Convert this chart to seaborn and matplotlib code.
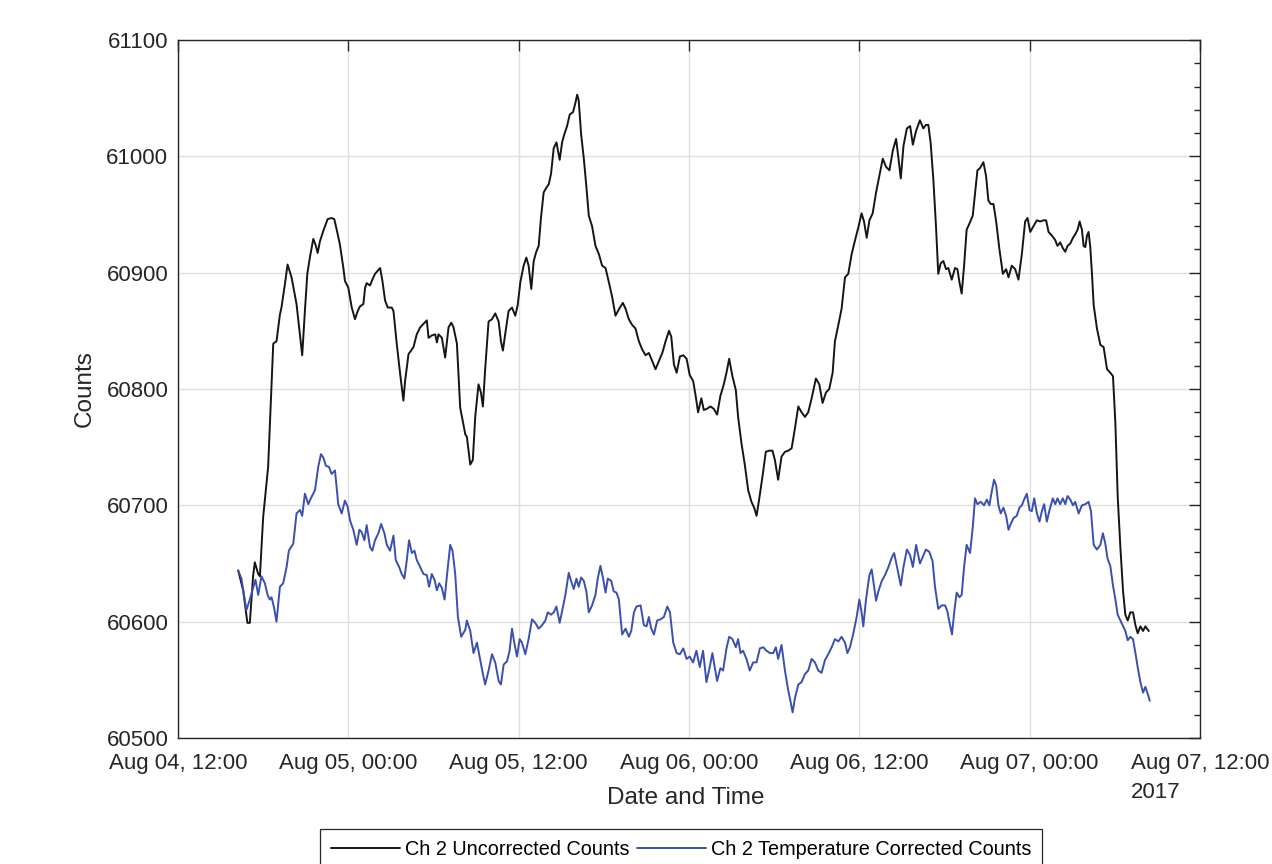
"""
Ch 2 counts, uncorrected vs temperature corrected (Aug 2017)
"""
import numpy as np
import pandas as pd
import matplotlib
matplotlib.use('Agg')
import matplotlib.pyplot as plt
from matplotlib.ticker import MultipleLocator
from matplotlib.lines import Line2D
import seaborn as sns

sns.set_theme(style='white')
plt.rcParams['font.family'] = ['Liberation Sans', 'DejaVu Sans']

# hours after Aug 04 2017, 12:00
unc_hours = [
    4.24, 4.59, 4.89, 5.06, 5.29, 5.41, 5.65, 5.77, 6.0, 6.35,
    6.54, 6.71, 6.94, 7.18, 7.29, 7.53, 7.72, 8.0, 8.35, 8.59,
    8.75, 8.94, 9.11, 9.29, 9.53, 9.69, 9.84, 10.0, 10.24, 10.54,
    10.82, 11.01, 11.18, 11.41, 11.65, 11.76, 12.0, 12.24, 12.47, 12.66,
    12.82, 13.06, 13.18, 13.29, 13.53, 13.69, 13.88, 14.24, 14.4, 14.59,
    14.78, 15.06, 15.18, 15.41, 15.65, 15.88, 16.0, 16.24, 16.42, 16.59,
    16.82, 17.06, 17.29, 17.53, 17.65, 17.88, 18.12, 18.24, 18.35, 18.59,
    18.82, 19.06, 19.25, 19.41, 19.65, 19.88, 20.24, 20.35, 20.59, 20.77,
    20.94, 21.17, 21.34, 21.48, 21.64, 21.88, 22.12, 22.35, 22.59, 22.75,
    22.89, 23.06, 23.29, 23.53, 23.76, 23.93, 24.12, 24.35, 24.54, 24.7,
    24.89, 25.06, 25.24, 25.41, 25.57, 25.76, 25.95, 26.12, 26.28, 26.47,
    26.66, 26.89, 27.06, 27.22, 27.41, 27.6, 27.83, 28.0, 28.12, 28.23,
    28.4, 28.59, 28.77, 28.94, 29.17, 29.41, 29.65, 29.88, 30.12, 30.35,
    30.59, 30.82, 31.13, 31.34, 31.53, 31.76, 32.0, 32.23, 32.47, 32.7,
    32.94, 33.17, 33.41, 33.64, 33.88, 34.12, 34.35, 34.59, 34.75, 34.94,
    35.13, 35.36, 35.6, 35.83, 36.05, 36.29, 36.47, 36.64, 36.87, 37.04,
    37.27, 37.51, 37.74, 37.98, 38.21, 38.45, 38.64, 38.83, 39.06, 39.3,
    39.46, 39.7, 39.93, 40.17, 40.4, 40.59, 40.76, 40.94, 41.18, 41.41,
    41.65, 41.88, 42.05, 42.28, 42.52, 42.76, 42.99, 43.23, 43.46, 43.7,
    43.93, 44.17, 44.4, 44.64, 44.94, 45.18, 45.41, 45.65, 45.88, 46.12,
    46.28, 46.52, 46.75, 46.99, 47.22, 47.46, 47.7, 47.93, 48.16, 48.33,
    48.52, 48.71, 48.94, 49.18, 49.41, 49.65, 49.88, 50.12, 50.36, 50.59,
    50.76, 50.92, 51.11, 51.35, 51.58, 51.77, 52.0, 52.27, 52.51, 52.69,
    52.86, 53.02, 53.21, 53.4, 53.56, 53.73, 53.92, 54.11, 54.27, 54.51,
    54.74, 54.91, 55.05, 55.21, 55.38, 55.56, 55.75, 55.99, 56.15, 56.32,
    56.51, 56.74, 56.93, 57.09, 57.26, 57.45, 57.64, 57.87, 58.11, 58.34,
    58.51, 58.74, 58.98, 59.21, 59.45, 59.68, 59.85, 60.04, 60.27, 60.51,
    60.74, 60.98, 61.16, 61.33, 61.56, 61.8, 61.96, 62.15, 62.34, 62.51,
    62.67, 62.86, 63.05, 63.21, 63.38, 63.52, 63.68, 63.8, 63.92, 64.04,
    64.15, 64.27, 64.39, 64.51, 64.74, 64.98, 65.21, 65.45, 65.68, 65.87,
    66.04, 66.2, 66.39, 66.58, 66.74, 66.91, 67.09, 67.28, 67.45, 67.61,
    67.8, 67.99, 68.15, 68.39,
]
unc_counts = [
    60644, 60627, 60599, 60599, 60639, 60651, 60641, 60639, 60690, 60733,
    60790, 60839, 60841, 60864, 60870, 60890, 60907, 60896, 60873, 60847,
    60829, 60867, 60899, 60913, 60929, 60924, 60917, 60927, 60936, 60946,
    60947, 60946, 60937, 60924, 60904, 60893, 60887, 60870, 60860, 60867,
    60871, 60873, 60887, 60891, 60889, 60894, 60899, 60904, 60893, 60876,
    60870, 60870, 60867, 60839, 60813, 60790, 60807, 60830, 60833, 60836,
    60847, 60853, 60856, 60859, 60844, 60846, 60847, 60840, 60847, 60844,
    60827, 60853, 60857, 60853, 60839, 60784, 60761, 60759, 60735, 60739,
    60776, 60804, 60797, 60785, 60817, 60858, 60860, 60865, 60858, 60841,
    60833, 60848, 60867, 60870, 60863, 60872, 60892, 60906, 60913, 60906,
    60886, 60910, 60918, 60923, 60947, 60969, 60973, 60976, 60985, 61007,
    61012, 60997, 61012, 61019, 61026, 61036, 61038, 61046, 61053, 61048,
    61019, 60998, 60974, 60949, 60940, 60923, 60916, 60906, 60904, 60892,
    60879, 60863, 60870, 60874, 60869, 60860, 60855, 60852, 60841, 60834,
    60829, 60831, 60824, 60817, 60824, 60831, 60841, 60850, 60845, 60821,
    60814, 60828, 60829, 60826, 60812, 60807, 60794, 60780, 60792, 60782,
    60783, 60785, 60783, 60778, 60794, 60804, 60814, 60826, 60811, 60799,
    60776, 60753, 60735, 60713, 60703, 60698, 60691, 60705, 60725, 60746,
    60747, 60747, 60739, 60722, 60742, 60746, 60747, 60749, 60766, 60785,
    60780, 60776, 60780, 60792, 60809, 60804, 60788, 60797, 60800, 60814,
    60841, 60855, 60869, 60896, 60899, 60916, 60928, 60939, 60951, 60944,
    60930, 60945, 60951, 60969, 60983, 60998, 60991, 60988, 61005, 61015,
    60998, 60981, 61009, 61024, 61026, 61010, 61022, 61031, 61024, 61027,
    61027, 61012, 60981, 60940, 60899, 60908, 60910, 60903, 60904, 60894,
    60904, 60903, 60892, 60882, 60906, 60937, 60942, 60949, 60968, 60988,
    60990, 60995, 60983, 60962, 60959, 60959, 60944, 60920, 60899, 60903,
    60896, 60906, 60903, 60894, 60916, 60944, 60947, 60935, 60940, 60945,
    60944, 60945, 60945, 60935, 60932, 60928, 60923, 60926, 60921, 60918,
    60923, 60925, 60930, 60933, 60937, 60944, 60937, 60923, 60922, 60932,
    60935, 60922, 60899, 60872, 60852, 60838, 60836, 60817, 60814, 60811,
    60770, 60708, 60664, 60626, 60606, 60601, 60608, 60608, 60597, 60590,
    60596, 60592, 60596, 60592,
]

cor_hours = [
    4.24, 4.47, 4.82, 5.06, 5.29, 5.46, 5.65, 5.88, 6.12, 6.31,
    6.47, 6.59, 6.75, 6.94, 7.18, 7.41, 7.65, 7.81, 8.12, 8.35,
    8.59, 8.75, 8.94, 9.18, 9.36, 9.65, 9.88, 10.07, 10.24, 10.42,
    10.64, 10.82, 11.06, 11.29, 11.53, 11.76, 11.95, 12.12, 12.35, 12.59,
    12.78, 12.94, 13.13, 13.29, 13.53, 13.69, 13.88, 14.12, 14.31, 14.54,
    14.71, 14.94, 15.18, 15.34, 15.58, 15.76, 15.95, 16.12, 16.28, 16.47,
    16.66, 16.82, 17.06, 17.29, 17.53, 17.69, 17.88, 18.07, 18.24, 18.4,
    18.59, 18.78, 19.01, 19.18, 19.34, 19.53, 19.72, 19.95, 20.24, 20.35,
    20.59, 20.82, 21.06, 21.25, 21.48, 21.64, 21.88, 22.12, 22.35, 22.59,
    22.75, 22.94, 23.18, 23.36, 23.53, 23.69, 23.88, 24.07, 24.23, 24.47,
    24.7, 24.94, 25.17, 25.41, 25.65, 25.88, 26.05, 26.28, 26.47, 26.66,
    26.89, 27.06, 27.29, 27.53, 27.69, 27.88, 28.07, 28.23, 28.4, 28.59,
    28.77, 28.94, 29.17, 29.41, 29.57, 29.76, 29.95, 30.12, 30.28, 30.52,
    30.7, 30.89, 31.06, 31.29, 31.53, 31.76, 31.93, 32.12, 32.3, 32.59,
    32.82, 33.01, 33.17, 33.34, 33.53, 33.76, 34.0, 34.23, 34.47, 34.66,
    34.89, 35.13, 35.36, 35.6, 35.83, 36.05, 36.29, 36.52, 36.76, 36.99,
    37.23, 37.46, 37.65, 37.81, 37.98, 38.21, 38.4, 38.64, 38.83, 39.06,
    39.3, 39.46, 39.63, 39.81, 40.05, 40.28, 40.52, 40.76, 40.99, 41.23,
    41.46, 41.7, 41.93, 42.12, 42.28, 42.52, 42.76, 42.99, 43.16, 43.3,
    43.46, 43.7, 43.93, 44.17, 44.4, 44.64, 44.87, 45.11, 45.34, 45.58,
    45.81, 46.05, 46.28, 46.52, 46.75, 46.99, 47.16, 47.34, 47.58, 47.81,
    48.0, 48.16, 48.28, 48.47, 48.71, 48.87, 49.04, 49.18, 49.34, 49.58,
    49.81, 50.05, 50.28, 50.45, 50.64, 50.92, 51.11, 51.35, 51.58, 51.77,
    52.0, 52.27, 52.51, 52.69, 52.93, 53.16, 53.33, 53.56, 53.8, 54.04,
    54.2, 54.39, 54.53, 54.69, 54.86, 55.05, 55.21, 55.38, 55.56, 55.8,
    55.99, 56.15, 56.32, 56.55, 56.79, 56.98, 57.16, 57.33, 57.49, 57.64,
    57.8, 57.96, 58.15, 58.34, 58.51, 58.67, 58.86, 59.09, 59.28, 59.45,
    59.61, 59.8, 59.99, 60.15, 60.32, 60.51, 60.69, 60.86, 61.02, 61.21,
    61.4, 61.63, 61.8, 61.96, 62.15, 62.34, 62.51, 62.67, 62.86, 63.05,
    63.21, 63.45, 63.68, 63.92, 64.15, 64.32, 64.51, 64.74, 64.98, 65.16,
    65.33, 65.49, 65.68, 65.87, 66.04, 66.2, 66.39, 66.58, 66.74, 66.91,
    67.09, 67.28, 67.45, 67.61, 67.8, 67.99, 68.15, 68.32, 68.46,
]
cor_counts = [
    60644, 60637, 60610, 60619, 60629, 60636, 60623, 60639, 60633, 60623,
    60619, 60621, 60613, 60600, 60630, 60633, 60647, 60661, 60667, 60693,
    60696, 60691, 60710, 60701, 60706, 60713, 60733, 60744, 60741, 60734,
    60733, 60727, 60730, 60701, 60693, 60704, 60699, 60687, 60679, 60666,
    60679, 60677, 60670, 60683, 60664, 60661, 60670, 60676, 60684, 60676,
    60666, 60661, 60674, 60653, 60647, 60641, 60637, 60653, 60670, 60659,
    60661, 60653, 60647, 60641, 60640, 60630, 60641, 60636, 60627, 60633,
    60629, 60619, 60647, 60666, 60661, 60641, 60604, 60587, 60593, 60601,
    60592, 60573, 60582, 60570, 60555, 60546, 60558, 60572, 60565, 60549,
    60546, 60563, 60566, 60575, 60594, 60582, 60570, 60585, 60582, 60572,
    60585, 60602, 60599, 60594, 60597, 60601, 60608, 60606, 60608, 60613,
    60599, 60609, 60623, 60642, 60635, 60628, 60637, 60630, 60638, 60635,
    60626, 60608, 60614, 60623, 60637, 60648, 60637, 60625, 60637, 60635,
    60626, 60625, 60619, 60589, 60594, 60587, 60592, 60608, 60613, 60614,
    60597, 60596, 60604, 60594, 60589, 60601, 60602, 60604, 60613, 60608,
    60582, 60573, 60572, 60577, 60568, 60570, 60565, 60575, 60561, 60575,
    60548, 60561, 60573, 60561, 60549, 60560, 60558, 60577, 60587, 60585,
    60578, 60585, 60573, 60575, 60568, 60558, 60565, 60565, 60577, 60578,
    60575, 60573, 60573, 60578, 60568, 60580, 60558, 60541, 60531, 60522,
    60534, 60546, 60548, 60555, 60558, 60568, 60565, 60558, 60556, 60567,
    60572, 60578, 60585, 60583, 60587, 60582, 60573, 60578, 60590, 60604,
    60619, 60608, 60596, 60619, 60640, 60645, 60630, 60618, 60626, 60635,
    60640, 60647, 60655, 60659, 60648, 60631, 60647, 60662, 60657, 60647,
    60666, 60650, 60657, 60662, 60660, 60652, 60630, 60611, 60614, 60614,
    60609, 60597, 60589, 60609, 60625, 60621, 60623, 60647, 60666, 60659,
    60681, 60706, 60701, 60703, 60700, 60705, 60700, 60712, 60722, 60717,
    60700, 60693, 60698, 60691, 60679, 60684, 60689, 60691, 60698, 60700,
    60705, 60710, 60696, 60695, 60706, 60693, 60686, 60695, 60701, 60686,
    60696, 60706, 60701, 60706, 60701, 60706, 60701, 60708, 60705, 60700,
    60703, 60693, 60700, 60701, 60703, 60695, 60666, 60662, 60666, 60676,
    60667, 60654, 60648, 60631, 60619, 60606, 60601, 60596, 60592, 60584,
    60587, 60585, 60573, 60561, 60548, 60539, 60544, 60538, 60532,
]

series_names = ['Ch 2 Uncorrected Counts', 'Ch 2 Temperature Corrected Counts']
series_colors = ['#151515', '#3b4fae']
tick_labels = ['Aug 04, 12:00', 'Aug 05, 00:00', 'Aug 05, 12:00', 'Aug 06, 00:00',
               'Aug 06, 12:00', 'Aug 07, 00:00', 'Aug 07, 12:00\n2017']

start = pd.Timestamp('2017-08-04 12:00')
df = pd.concat([
    pd.DataFrame({'Date and Time': start + pd.to_timedelta(unc_hours, unit='h'),
                  'Counts': unc_counts, 'Series': series_names[0]}),
    pd.DataFrame({'Date and Time': start + pd.to_timedelta(cor_hours, unit='h'),
                  'Counts': cor_counts, 'Series': series_names[1]}),
], ignore_index=True)

txt = '#262626'
W, H = 1272, 864
fig = plt.figure(figsize=(W / 100, H / 100), dpi=100)
ax = fig.add_axes([178 / W, 1 - 738 / H, (1200 - 178) / W, (738 - 40) / H])

sns.lineplot(data=df, x='Date and Time', y='Counts', hue='Series',
             palette=dict(zip(series_names, series_colors)),
             estimator=None, sort=False, lw=1.4, legend=False, ax=ax)

ax.set_xlim(start, start + pd.Timedelta(hours=72))
ax.set_ylim(60500, 61100)
ax.set_xticks([start + pd.Timedelta(hours=12 * i) for i in range(7)])
ax.set_xticklabels(tick_labels)
last = ax.get_xticklabels()[-1]
last.set_multialignment('left')
last.set_linespacing(1.5)
ax.yaxis.set_major_locator(MultipleLocator(100))
ax.yaxis.set_minor_locator(MultipleLocator(20))

ax.tick_params(which='both', direction='in', top=True, right=True,
               colors=txt, labelcolor=txt, labelsize=16, width=1.0)
ax.tick_params(which='major', length=8)
ax.tick_params(axis='y', which='major', pad=7)
ax.tick_params(axis='x', which='major', pad=11)
ax.tick_params(which='minor', length=4)
ax.tick_params(axis='x', which='minor', top=False, bottom=False)

ax.grid(True, which='major', color='#dedede', lw=1.0)
for sp in ax.spines.values():
    sp.set_color(txt)
    sp.set_linewidth(1.0)

ax.set_xlabel('Date and Time', fontsize=17.5, color=txt)
ax.set_ylabel('Counts', fontsize=17.5, color=txt)
ax.xaxis.set_label_coords(0.497, -0.070)
ax.yaxis.set_label_coords(-0.080, 0.50)

handles = [Line2D([], [], color=c, lw=1.4) for c in series_colors]
leg = fig.legend(handles, series_names, loc='upper center',
                 bbox_to_anchor=(681 / W, 1 - 829 / H), ncol=2, fontsize=14.3,
                 frameon=True, fancybox=False, framealpha=1, edgecolor=txt,
                 handlelength=3.5, handletextpad=0.25, columnspacing=0.35,
                 borderpad=0.55, borderaxespad=0)
leg.get_frame().set_linewidth(0.9)
for t in leg.get_texts():
    t.set_color('black')

fig.savefig('out.png', dpi=100)
